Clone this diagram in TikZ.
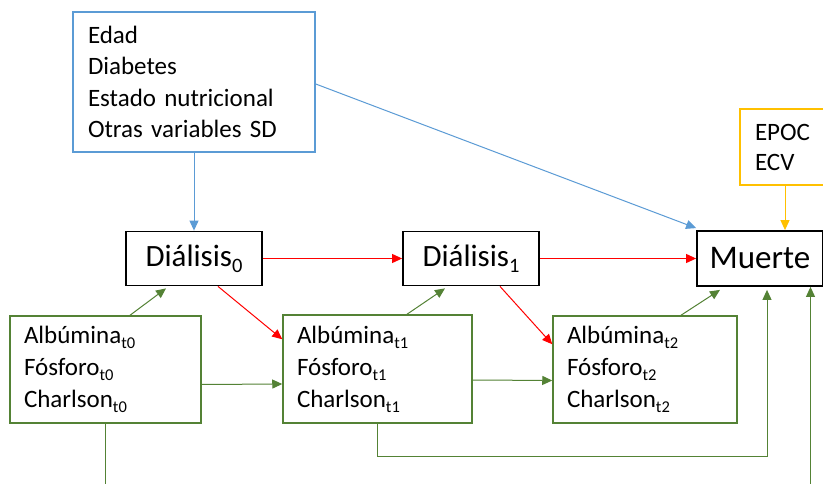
\documentclass[tikz,border=0pt]{standalone}
\usepackage{fontspec}
\setmainfont{Carlito}
\usetikzlibrary{arrows.meta}
\definecolor{cblue}{RGB}{91,155,213}
\definecolor{cgreen}{RGB}{84,130,53}
\definecolor{cyellow}{RGB}{255,192,0}
\definecolor{cred}{RGB}{255,0,0}
\newcommand\mysub[1]{\raisebox{-0.2em}{\scalebox{0.66}{#1}}}
\tikzset{
  box/.style={draw, rectangle, line width=1.5pt, inner sep=0pt},
  listbox/.style={box, align=left, inner xsep=15pt, font=\fontsize{25}{31.5}\selectfont},
  bluebox/.style={listbox, draw=cblue, text width=212pt, minimum height=140pt},
  greenbox/.style={listbox, draw=cgreen, inner xsep=14pt, minimum height=107pt, font=\fontsize{25}{32}\selectfont},
  yellowbox/.style={listbox, draw=cyellow, text width=60pt, minimum height=76pt, font=\fontsize{25}{30}\selectfont},
  dbox/.style={box, draw=black, line width=1.8pt, minimum height=54pt, font=\fontsize{31}{36}\selectfont},
  conn/.style={line width=1pt, -{Triangle[length=10pt,width=9pt]}},
  redc/.style={conn, draw=cred},
  bluec/.style={conn, draw=cblue},
  greenc/.style={conn, draw=cgreen},
  yellowc/.style={conn, draw=cyellow}
}
\begin{document}
\begin{tikzpicture}[x=1pt,y=-1pt]
\useasboundingbox (0,0) rectangle (823,484);
\fill[white] (0,0) rectangle (823,484);
\node[bluebox] (conf) at (194,82) {Edad\\Diabetes\\Estado nutricional\\Otras variables SD};
\node[yellowbox] (epoc) at (785,147) {EPOC\\ECV};
\node[dbox, minimum width=136pt] (d0) at (194,258.5) {Diálisis\mysub{0}};
\node[dbox, minimum width=136pt] (d1) at (471,258.5) {Diálisis\mysub{1}};
\node[dbox, minimum width=126pt, minimum height=55pt, font=\fontsize{33}{36}\selectfont] (m) at (760,258.5) {Muerte};
\node[greenbox, text width=163pt] (g0) at (105.5,369.5) {Albúmina\mysub{t0}\\Fósforo\mysub{t0}\\Charlson\mysub{t0}};
\node[greenbox, text width=161pt, minimum height=108pt] (g1) at (377.5,369) {Albúmina\mysub{t1}\\Fósforo\mysub{t1}\\Charlson\mysub{t1}};
\node[greenbox, text width=156pt] (g2) at (645,369.5) {Albúmina\mysub{t2}\\Fósforo\mysub{t2}\\Charlson\mysub{t2}};
\coordinate (b0) at (105.5,490);
\coordinate (b1) at (810.5,490);
% blue
\draw[bluec] (conf.south) -- (d0.north);
\draw[bluec] ([yshift=-2pt]conf.east) -- ([yshift=2pt]m.north west);
% yellow
\draw[yellowc] (epoc.south) -- (epoc.south |- m.north);
% red
\draw[redc] (d0.east) -- (d1.west);
\draw[redc] (d1.east) -- (m.west);
\draw[redc] ([xshift=24pt]d0.south) -- ([yshift=-25pt]g1.north west);
\draw[redc] ([xshift=29pt]d1.south) -- ([yshift=-29pt]g2.north west);
% green
\draw[greenc] ([xshift=24.5pt]g0.north) -- ([xshift=-28pt,yshift=-2pt]d0.south);
\draw[greenc] ([xshift=29.5pt]g1.north) -- ([xshift=-26pt,yshift=-2pt]d1.south);
\draw[greenc] ([xshift=36pt]g2.north) -- ([xshift=-40pt,yshift=-3pt]m.south);
\draw[greenc] ([yshift=-15pt]g0.east) -- ([yshift=-15pt]g1.west);
\draw[greenc] ([yshift=-11pt]g1.east) -- ([yshift=-11pt]g2.west);
\draw[greenc] (g1.south) -- ++(0,33) -| ([xshift=7pt,yshift=-3pt]m.south);
\draw[line width=1pt, draw=cgreen] (g0.south) -- (b0);
\draw[greenc] (b1) -- (b1 |- m.south);
\end{tikzpicture}
\end{document}
